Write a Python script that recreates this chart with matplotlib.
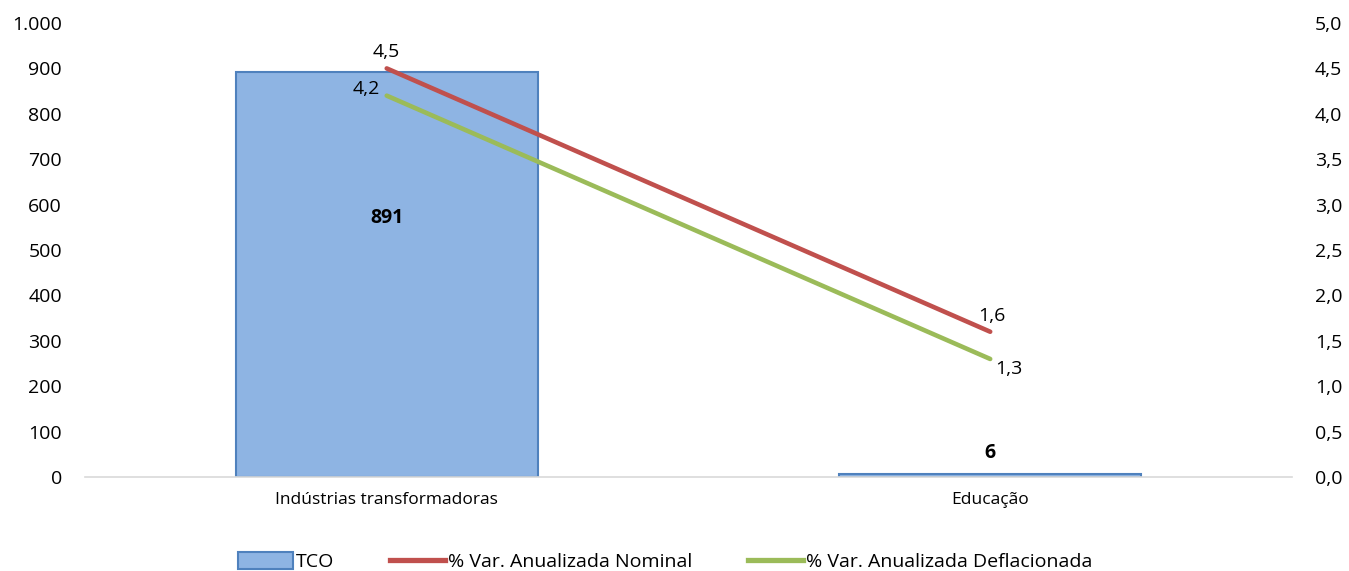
import matplotlib
matplotlib.use('Agg')
import matplotlib.pyplot as plt
from matplotlib.patches import Patch
from matplotlib.lines import Line2D
from matplotlib.ticker import FuncFormatter, MultipleLocator

plt.rcParams['font.family'] = ['Open Sans', 'DejaVu Sans']

# data
categories = ['Indústrias transformadoras', 'Educação']
tco = [891, 6]
var_nominal = [4.5, 1.6]
var_deflacionada = [4.2, 1.3]

bar_fill = '#8EB4E3'
bar_edge = '#4F81BD'
red = '#C0504D'
green = '#9BBB59'


def fmt_left(v, pos):
    return f'{int(v):,}'.replace(',', '.')


def fmt_right(v, pos):
    return f'{v:.1f}'.replace('.', ',')


def fmt_pt(v):
    return f'{v:.1f}'.replace('.', ',')


fig = plt.figure(figsize=(13.49, 5.71), dpi=100)
ax = fig.add_axes([0.063, 0.1646, 0.8947, 0.7951])
x = list(range(len(categories)))

ax.bar(x, tco, width=0.5, color=bar_fill, edgecolor=bar_edge, linewidth=1.5, zorder=2)
ax.set_xlim(-0.5, 1.5)
ax.set_ylim(0, 1000)
ax.yaxis.set_major_locator(MultipleLocator(100))
ax.yaxis.set_major_formatter(FuncFormatter(fmt_left))
ax.set_xticks(x)
ax.set_xticklabels(categories, fontsize=12.5)
ax.tick_params(axis='both', length=0)
ax.tick_params(axis='y', labelsize=14, pad=16.5)
ax.tick_params(axis='x', pad=11)
for s in ['top', 'right', 'left']:
    ax.spines[s].set_visible(False)
ax.spines['bottom'].set_color('#D9D9D9')
ax.spines['bottom'].set_linewidth(1.2)

# bar value labels
ax.text(x[0], tco[0] * 0.64, f'{tco[0]}', ha='center', va='center',
        fontsize=14, fontweight='bold')
ax.text(x[1], tco[1] + 47, f'{tco[1]}', ha='center', va='center',
        fontsize=14, fontweight='bold')

# secondary axis for the percentages
ax2 = ax.twinx()
ax2.set_ylim(0, 5)
ax2.yaxis.set_major_locator(MultipleLocator(0.5))
ax2.yaxis.set_major_formatter(FuncFormatter(fmt_right))
ax2.tick_params(axis='y', length=0, labelsize=14, pad=16.5)
for s in ['top', 'right', 'left', 'bottom']:
    ax2.spines[s].set_visible(False)

ax2.plot(x, var_nominal, color=red, linewidth=3.3, solid_capstyle='round', zorder=3)
ax2.plot(x, var_deflacionada, color=green, linewidth=3.3, solid_capstyle='round', zorder=3)

ax2.annotate(fmt_pt(var_nominal[0]), (x[0], var_nominal[0]), xytext=(0, 12),
             textcoords='offset points', ha='center', va='center', fontsize=14)
ax2.annotate(fmt_pt(var_deflacionada[0]), (x[0], var_deflacionada[0]), xytext=(-4.5, 5),
             textcoords='offset points', ha='right', va='center', fontsize=14)
ax2.annotate(fmt_pt(var_nominal[1]), (x[1], var_nominal[1]), xytext=(1.5, 11.5),
             textcoords='offset points', ha='center', va='center', fontsize=14)
ax2.annotate(fmt_pt(var_deflacionada[1]), (x[1], var_deflacionada[1]), xytext=(3.5, -7),
             textcoords='offset points', ha='left', va='center', fontsize=14)

handles = [
    Patch(facecolor=bar_fill, edgecolor=bar_edge, linewidth=1.5, label='TCO'),
    Line2D([0], [0], color=red, linewidth=3.8, label='% Var. Anualizada Nominal'),
    Line2D([0], [0], color=green, linewidth=3.8, label='% Var. Anualizada Deflacionada'),
]
fig.legend(handles=handles, loc='center', bbox_to_anchor=(0.493, 0.016), ncol=3,
           frameon=False, fontsize=14, handlelength=2.8, handletextpad=0.15,
           columnspacing=2.9, handleheight=0.9, borderpad=0)

fig.savefig('out.png', dpi=100)
